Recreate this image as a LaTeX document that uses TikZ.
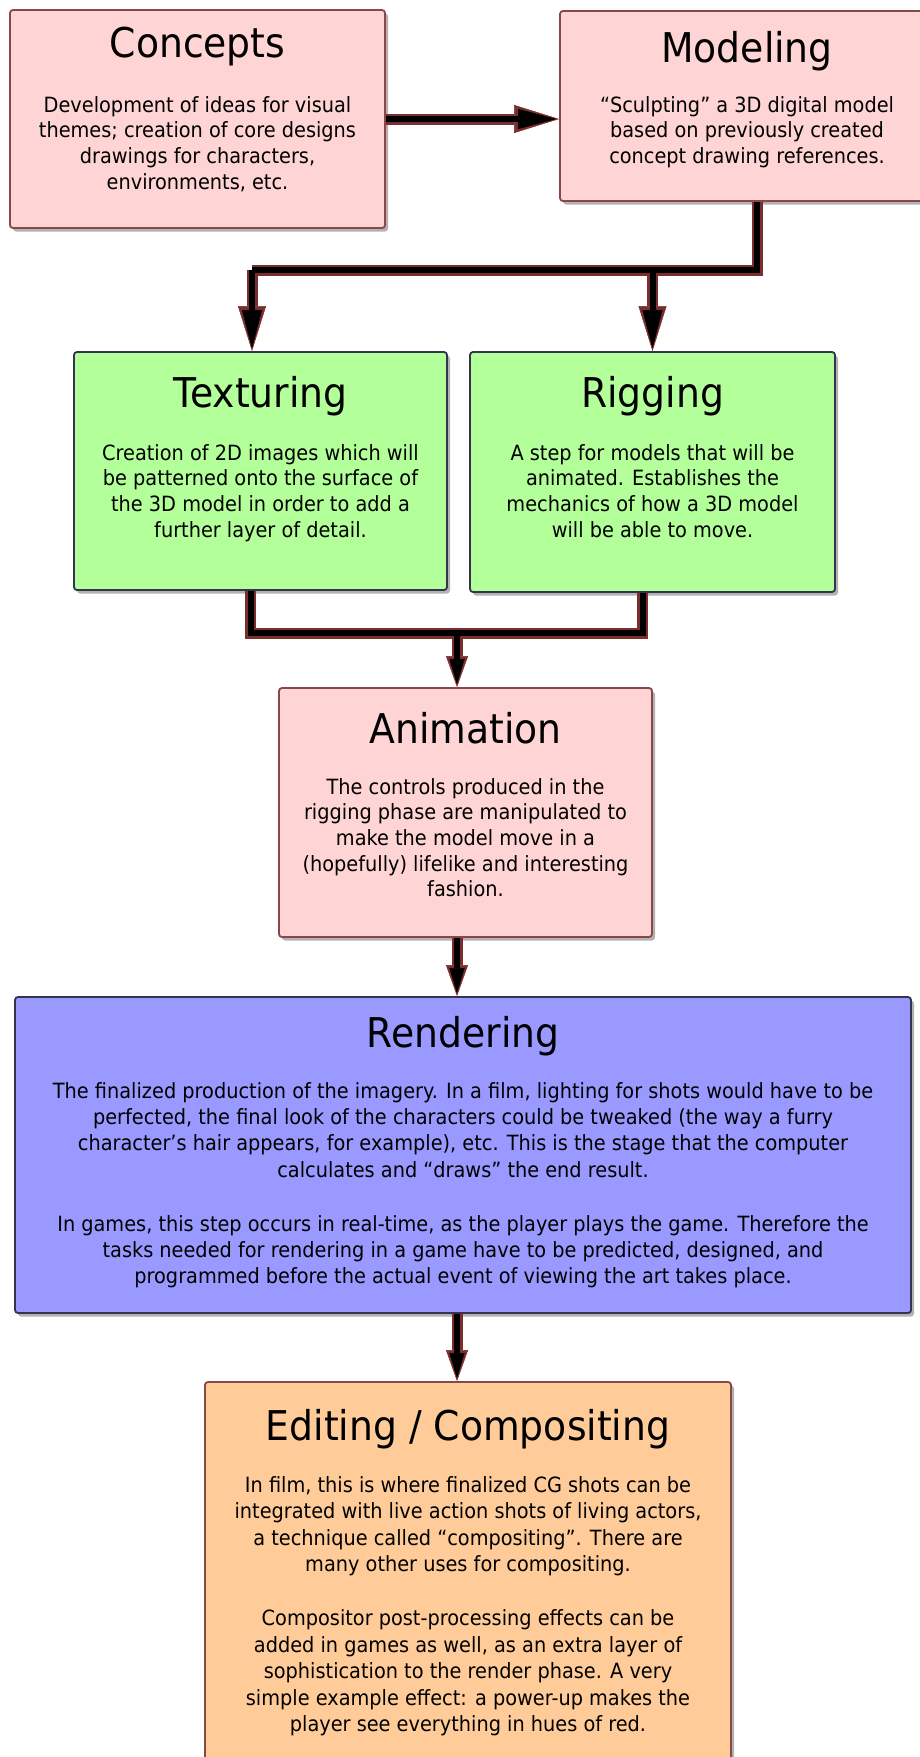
\documentclass[tikz,border=0pt]{standalone}
\usepackage{fontspec}
\setmainfont{DejaVu Sans}[FakeStretch=0.92]
\usetikzlibrary{arrows.meta,shadows,positioning}

\definecolor{pinkfill}{HTML}{FFD4D4}
\definecolor{pinkline}{HTML}{8A4747}
\definecolor{greenfill}{HTML}{B3FF99}
\definecolor{bluefill}{HTML}{9999FF}
\definecolor{orangefill}{HTML}{FFCC99}
\definecolor{navyline}{HTML}{34344C}
\definecolor{linkred}{HTML}{7A2E2E}

\tikzset{
  box/.style={rounded corners=3pt, line width=1.8pt, inner sep=0pt,
    drop shadow={shadow xshift=3pt, shadow yshift=-3.5pt, fill=black, opacity=0.3}},
  pinkbox/.style={box, draw=pinkline, fill=pinkfill},
  greenbox/.style={box, draw=navyline, fill=greenfill},
  bluebox/.style={box, draw=navyline, fill=bluefill},
  orangebox/.style={box, draw=pinkline, fill=orangefill},
  heading/.style={anchor=base, inner sep=0pt, font=\fontsize{41}{48}\selectfont},
  blurb/.style={anchor=north, inner sep=0pt, align=center, font=\fontsize{21}{25.7}\selectfont},
  link under/.style={draw=linkred, line width=11pt},
  link over/.style={draw=black, line width=6pt},
  bigtip under/.style={-{Triangle[length=45pt, width=28pt, line width=0.5pt]}},
  bigtip over/.style={-{Triangle[length=38pt, width=20pt, line width=0.5pt]}, shorten >=3pt},
  tip under/.style={-{Triangle[length=31pt, width=22pt, line width=0.5pt]}},
  tip over/.style={-{Triangle[length=25pt, width=15pt, line width=0.5pt]}, shorten >=3pt},
}

\begin{document}
\begin{tikzpicture}[x=1pt, y=-1pt]

\useasboundingbox (0,0) rectangle (920,1757);
\clip (0,0) rectangle (920,1757);

% boxes
\node[pinkbox, minimum width=375pt, minimum height=218pt] (concepts) at (197.5,119) {};
\node[pinkbox, minimum width=374pt, minimum height=190pt] (modeling) at (747,106) {};
\node[greenbox, minimum width=373pt, minimum height=238pt] (texturing) at (260.5,471) {};
\node[greenbox, minimum width=365pt, minimum height=240pt] (rigging) at (652.5,472) {};
\node[pinkbox, minimum width=373pt, minimum height=249pt] (animation) at (465.5,812.5) {};
\node[bluebox, minimum width=896pt, minimum height=316pt] (rendering) at (463,1155) {};
\node[orangebox, minimum width=526pt, minimum height=418pt] (editing) at (468,1591) {};

% titles
\node[heading] (concepts-title) at (197.5,57) {Concepts};
\node[heading] (modeling-title) at (747,62) {Modeling};
\node[heading] (texturing-title) at (260.5,407) {Texturing};
\node[heading] (rigging-title) at (652.5,407) {Rigging};
\node[heading] (animation-title) at (465.5,743) {Animation};
\node[heading] (rendering-title) at (463,1047) {Rendering};
\node[heading] (editing-title) at (468,1440) {Editing / Compositing};

% texts
\node[blurb] (concepts-text) at (197.5,96) {Development of ideas for visual\\
  themes; creation of core designs\\ drawings for characters,\\ environments, etc.};
\node[blurb] (modeling-text) at (747,96) {“Sculpting” a 3D digital model\\
  based on previously created\\ concept drawing references.};
\node[blurb] (texturing-text) at (260.5,444) {Creation of 2D images which will\\
  be patterned onto the surface of\\ the 3D model in order to add a\\ further layer of detail.};
\node[blurb] (rigging-text) at (652.5,444) {A step for models that will be\\
  animated. Establishes the\\ mechanics of how a 3D model\\ will be able to move.};
\node[blurb] (animation-text) at (465.5,778) {The controls produced in the\\
  rigging phase are manipulated to\\ make the model move in a\\
  (hopefully) lifelike and interesting\\ fashion.};
\node[blurb, font=\fontsize{21}{26.3}\selectfont] (rendering-text) at (463,1082) {The finalized production of the imagery. In a film, lighting for shots would have to be\\
  perfected, the final look of the characters could be tweaked (the way a furry\\
  character’s hair appears, for example), etc. This is the stage that the computer\\
  calculates and “draws” the end result.\\[28pt]
  In games, this step occurs in real-time, as the player plays the game. Therefore the\\
  tasks needed for rendering in a game have to be predicted, designed, and\\
  programmed before the actual event of viewing the art takes place.};
\node[blurb, font=\fontsize{21}{26.5}\selectfont] (editing-text) at (468,1476) {In film, this is where finalized CG shots can be\\
  integrated with live action shots of living actors,\\
  a technique called “compositing”. There are\\ many other uses for compositing.\\[27.5pt]
  Compositor post-processing effects can be\\ added in games as well, as an extra layer of\\
  sophistication to the render phase. A very\\ simple example effect: a power-up makes the\\
  player see everything in hues of red.};

% connectors
\coordinate (fork) at (252,270);
\coordinate (join) at (457,633);

\foreach \pass in {under,over} {
  \draw[link \pass, bigtip \pass] (concepts.east) -- (concepts.east -| modeling.west);
  \draw[link \pass] ([xshift=10pt]modeling.south) |- (fork);
  \draw[link \pass, bigtip \pass] (fork) -- (fork |- texturing.north);
  \draw[link \pass, bigtip \pass] (fork -| rigging.north) -- (rigging.north);
  \draw[link \pass] ([xshift=-10pt]texturing.south) |- (join) -| ([xshift=-10pt]rigging.south);
  \draw[link \pass, tip \pass] (join) -- (join |- animation.north);
  \draw[link \pass, tip \pass] (animation.south -| join) -- (rendering.north -| join);
  \draw[link \pass, tip \pass] (rendering.south -| join) -- (editing.north -| join);
}

\end{tikzpicture}
\end{document}
